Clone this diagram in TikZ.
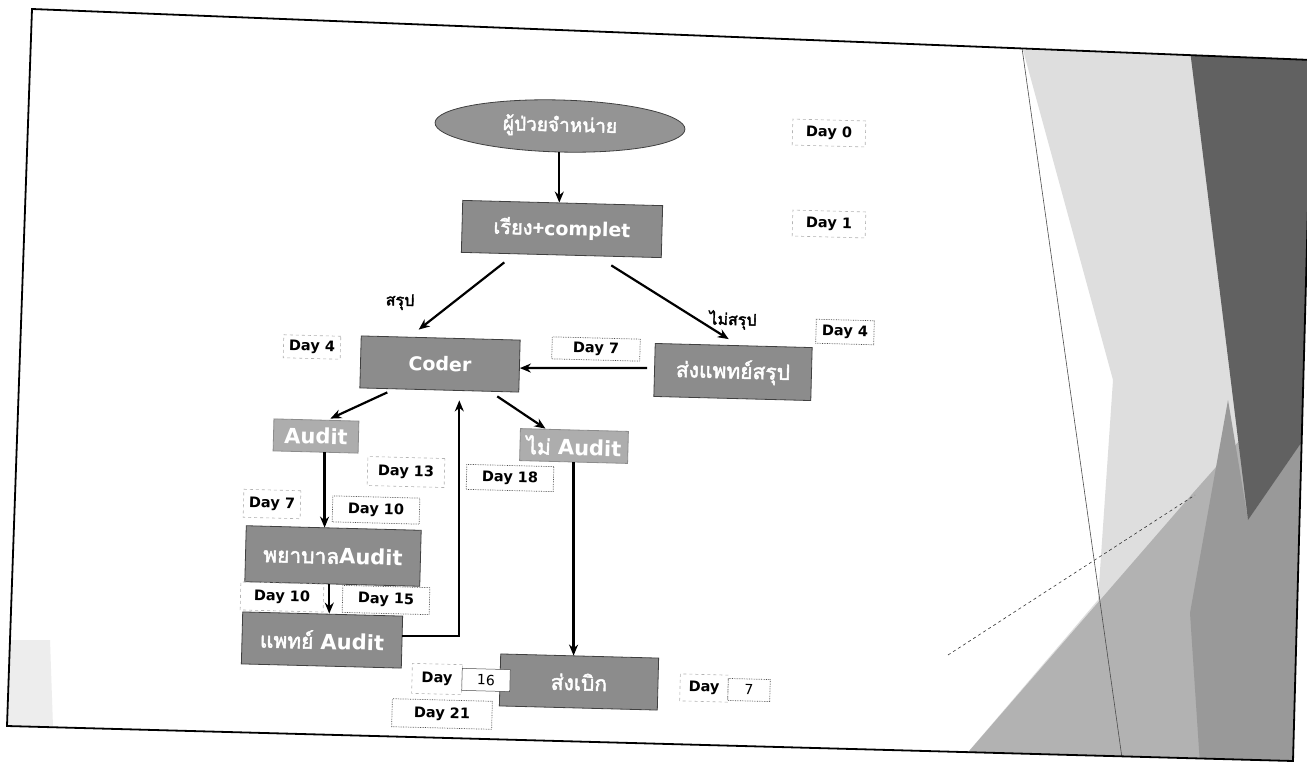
\documentclass[tikz,border=0pt]{standalone}
\usepackage{fontspec}
\usetikzlibrary{arrows.meta,shapes.geometric}
\setmainfont{DejaVu Sans}
\newfontfamily\thai[Script=Thai, AutoFakeBold=2.2]{Loma}
\newfontfamily\dv{DejaVu Sans}
\tikzset{
  box/.style={draw=black!75, line width=0.8pt, fill=black!45, text=white, inner sep=0pt, rotate=-1.5,
    font=\bfseries\fontsize{19}{21}\selectfont},
  lightbox/.style={box, fill=black!32, draw=black!45, font=\bfseries\fontsize{21}{23}\selectfont},
  dashlbl/.style={draw=gray!60, dashed, line width=0.6pt, inner sep=0pt, rotate=-1.5,
    font=\dv\bfseries\fontsize{14.5}{16}\selectfont},
  dotlbl/.style={draw=black!70, densely dotted, line width=0.7pt, inner sep=0pt, rotate=-1.5,
    font=\dv\bfseries\fontsize{14.5}{16}\selectfont},
  arr/.style={-{Stealth[length=11pt,width=9pt]}, line width=2.2pt},
  lbltxt/.style={font=\thai\bfseries\fontsize{16}{18}\selectfont, rotate=-1.5},
}
\begin{document}
\begin{tikzpicture}[x=1pt,y=-1pt]
\useasboundingbox (0,0) rectangle (1307,763);
\fill[white] (0,0) rectangle (1307,763);
\begin{scope}
\clip (32,9) -- (1312,60) -- (1293,761) -- (7,726) -- cycle;
% background decoration
\fill[black!13] (1023,50) -- (1312,55) -- (1310,765) -- (957,765) -- (1098,600) -- (1113,380) -- cycle;
\fill[black!30] (957,765) -- (1193,493) -- (1240,440) -- (1310,430) -- (1310,765) -- cycle;
\fill[black!40] (1228,400) -- (1248,520) -- (1310,430) -- (1310,765) -- (1200,765) -- (1190,613) -- cycle;
\fill[black!62] (1190,50) -- (1312,55) -- (1310,430) -- (1248,520) -- cycle;
\fill[black!7] (10,640) -- (50,640) -- (53,727) -- (8,726) -- cycle;
\draw[black!70, line width=0.6pt] (1022,48) -- (1123,765);
\draw[black!80, dashed, line width=0.6pt] (948,655) -- (1195,495);
\end{scope}
\draw[line width=1.8pt] (32,9) -- (1312,60) -- (1293,761) -- (7,726) -- cycle;

% main nodes
\node[ellipse, draw=black!75, line width=0.8pt, fill=black!42, text=white, inner sep=0pt, rotate=-1.5,
  minimum width=250, minimum height=52, font=\thai\bfseries\fontsize{19}{21}\selectfont] (pt) at (560,126) {ผู้ป่วยจำหน่าย};
\node[box, minimum width=200, minimum height=52] (sort) at (562,229) {{\thai\fontsize{20}{22}\selectfont เรียง+}{\dv complet}};
\node[box, minimum width=159, minimum height=52] (coder) at (440,364) {\dv Coder};
\node[box, minimum width=157, minimum height=53, font=\thai\bfseries\fontsize{21}{23}\selectfont] (doc) at (733,372) {ส่งแพทย์สรุป};
\node[lightbox, minimum width=85, minimum height=32] (audit) at (316,436) {\dv Audit};
\node[lightbox, minimum width=108, minimum height=32] (noaudit) at (574,446) {{\thai ไม่ }{\dv Audit}};
\node[box, minimum width=175, minimum height=56, font=\bfseries\fontsize{21}{23}\selectfont] (nurse) at (333,556) {{\thai พยาบาล}{\dv Audit}};
\node[box, minimum width=160, minimum height=52, font=\bfseries\fontsize{21}{23}\selectfont] (md) at (322,640) {{\thai แพทย์ }{\dv Audit}};
\node[box, minimum width=158, minimum height=52, font=\thai\bfseries\fontsize{21}{23}\selectfont] (claim) at (579,682) {ส่งเบิก};

% branch labels
\node[lbltxt] (yes) at (400,302) {สรุป};
\node[lbltxt] (no) at (733,320) {ไม่สรุป};

% day labels
\node[dashlbl, minimum width=73, minimum height=26] (d0) at (829,133) {Day 0};
\node[dashlbl, minimum width=73, minimum height=26] (d1) at (829,224) {Day 1};
\node[dashlbl, minimum width=57, minimum height=23] (d4a) at (312,347) {Day 4};
\node[dotlbl, minimum width=58, minimum height=24] (d4b) at (845,332) {Day 4};
\node[dotlbl, minimum width=88, minimum height=22] (d7a) at (596,349) {Day 7};
\node[dashlbl, minimum width=77, minimum height=29] (d13) at (406,472) {Day 13};
\node[dotlbl, minimum width=87, minimum height=25] (d18) at (510,478) {Day 18};
\node[dashlbl, minimum width=57, minimum height=28] (d7b) at (272,504) {Day 7};
\node[dotlbl, minimum width=87, minimum height=26] (d10a) at (376,510) {Day 10};
\node[dashlbl, minimum width=83, minimum height=28] (d10b) at (282,597) {Day 10};
\node[dotlbl, minimum width=87, minimum height=27] (d15) at (386,600) {Day 15};
\node[dashlbl, minimum width=50, minimum height=30] (d16a) at (437,679) {Day};
\node[draw=black!70, line width=0.5pt, fill=white, inner sep=0pt, rotate=-1.5, minimum width=48, minimum height=22,
  font=\fontsize{14}{16}\selectfont] (d16b) at (486,680) {16};
\node[dotlbl, minimum width=100, minimum height=28] (d21) at (442,714) {Day 21};
\node[dashlbl, minimum width=48, minimum height=27] (d7c) at (704,688) {Day};
\node[dotlbl, minimum width=42, minimum height=22, font=\fontsize{14}{16}\selectfont] (d7d) at (749,690) {7};

% connectors
\draw[arr] (pt.south) -- (pt.south |- sort.north);
\draw[arr] ([shift={(-57,7)}]sort.south) -- ([shift={(-22,-8)}]coder.north);
\draw[arr] ([shift={(50,10)}]sort.south) -- ([shift={(-5,-6)}]doc.north);
\draw[arr] ([shift={(-7,-2)}]doc.west) -- ([shift={(0,2)}]coder.east);
\draw[arr] ([shift={(-52,2)}]coder.south) -- ([shift={(14,-1)}]audit.north);
\draw[arr] ([shift={(58,6)}]coder.south) -- ([shift={(-29,-1)}]noaudit.north);
\draw[arr] ([xshift=9]audit.south) -- ([xshift=9]audit.south |- nurse.north);
\draw[arr] ([xshift=-3]nurse.south) -- ([xshift=-3]nurse.south |- md.north);
\draw[arr] ([yshift=6]md.east) -| ([shift={(20,10)}]coder.south);
\draw[arr] (noaudit.south) -- (noaudit.south |- claim.north);
\end{tikzpicture}
\end{document}
